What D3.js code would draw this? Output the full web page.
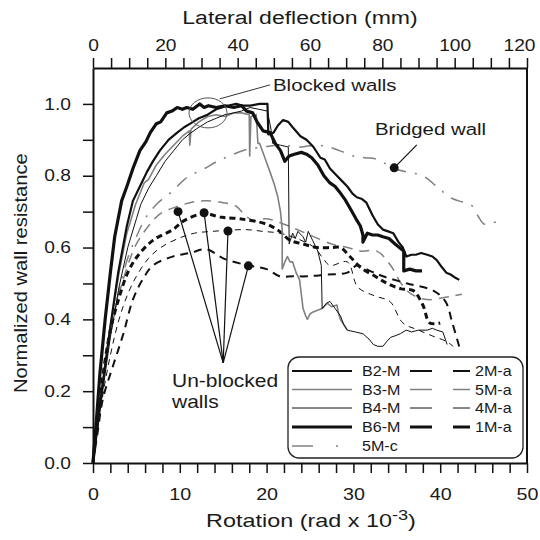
<!DOCTYPE html>
<html><head><meta charset="utf-8">
<script src="https://cdn.jsdelivr.net/npm/d3@7"></script>
<style>
body{margin:0;background:#fff}
svg{display:block}
text{font-family:"Liberation Sans",Arial,sans-serif;fill:#1a1a1a}
</style>
</head><body>
<svg id="c" width="540" height="540"></svg>
<script>
// ---------- data: [rotation (rad x 10^-3), normalized resistance] ----------
const B2M = [[0,0],[0.5,0.1],[1,0.2],[2,0.38],[2.9,0.53],[3.9,0.66],[4.6,0.73],[5.4,0.77],[6.2,0.81],[6.9,0.84],[7.7,0.87],[8.7,0.9],[9.7,0.92],[10.5,0.935],[11.2,0.945],[12.2,0.96],[13.2,0.97],[14.2,0.985],[15.5,0.995],[16.5,1.0],[17.3,0.995],[18.1,0.995],[19.2,1.0],[20.1,1.0],[20.2,0.915],[20.8,0.92],[21.3,0.94],[21.9,0.955],[22.5,0.95],[23,0.935],[23.9,0.91],[24.6,0.9],[25.4,0.88],[26.2,0.85],[26.7,0.845],[27.3,0.82],[28.1,0.8],[28.7,0.785],[29.3,0.77],[29.9,0.75],[30.4,0.74],[31,0.735],[31.5,0.725],[32.2,0.69],[32.8,0.665],[33.4,0.65],[34,0.645],[34.6,0.64],[35.2,0.615],[35.7,0.6],[36.1,0.575],[36.7,0.58],[37.2,0.58],[37.8,0.585],[38.5,0.58],[39.1,0.575],[39.6,0.565],[40.2,0.545],[40.7,0.53],[41.2,0.525],[41.8,0.515],[42.2,0.51]];
const B3M = [[0,0],[0.5,0.1],[1,0.2],[2,0.38],[3,0.53],[3.9,0.64],[4.9,0.72],[5.4,0.75],[5.9,0.78],[6.4,0.79],[7.3,0.83],[8.3,0.86],[9.3,0.885],[10.3,0.91],[11.1,0.925],[11.15,0.885],[11.3,0.93],[12.2,0.95],[13.2,0.965],[14.2,0.97],[15.2,0.965],[16.2,0.975],[17.1,0.975],[18,0.97],[18.05,0.855],[18.2,0.965],[18.8,0.97],[19.0,0.89],[19.2,0.89],[19.8,0.85],[20.4,0.81],[20.9,0.775],[21.3,0.74],[21.6,0.7],[21.8,0.65],[21.8,0.54],[22.1,0.56],[22.4,0.575],[22.7,0.56],[23.0,0.56],[23.4,0.53],[23.8,0.51],[24.0,0.47],[24.2,0.43],[24.5,0.41],[24.7,0.4],[25.0,0.415],[25.3,0.42],[25.8,0.425],[26.4,0.43],[27.0,0.445],[27.5,0.435],[28.1,0.44],[28.3,0.415],[28.5,0.4],[28.9,0.385],[29.3,0.37]];
const B4M = [[0,0],[0.5,0.09],[1,0.18],[2,0.35],[3,0.49],[4,0.6],[5,0.68],[5.5,0.72],[6.4,0.765],[7.3,0.8],[8.3,0.84],[9.3,0.87],[10.3,0.9],[11.3,0.92],[12.2,0.935],[13.2,0.95],[14.2,0.96],[15.2,0.97],[16.2,0.975],[17.1,0.98],[18.1,0.99],[19.1,0.985],[20.1,0.98],[20.5,0.93],[20.7,0.89],[21.6,0.885],[22.5,0.88],[22.6,0.61],[23.0,0.64],[23.3,0.625],[23.6,0.645],[24.2,0.63],[24.5,0.615],[24.8,0.645],[25.3,0.62],[25.9,0.59],[26.3,0.55],[26.4,0.43],[26.9,0.445],[27.3,0.45],[27.9,0.43],[28.5,0.41],[28.9,0.385],[29.3,0.37],[30.2,0.365],[31.1,0.36],[31.8,0.345],[32.3,0.33],[32.8,0.325],[33.4,0.325],[33.9,0.34],[34.3,0.35],[34.9,0.355],[35.4,0.36],[36.1,0.37],[36.7,0.365],[37.5,0.37],[38.5,0.37],[39.1,0.375],[39.6,0.37],[40.3,0.365],[40.8,0.33]];
const B6M = [[0,0],[0.4,0.12],[0.8,0.25],[1.4,0.4],[2,0.53],[2.5,0.63],[3.3,0.73],[3.9,0.77],[4.6,0.82],[5.4,0.87],[6.1,0.895],[6.6,0.92],[7.3,0.945],[7.8,0.95],[8.5,0.975],[9.1,0.98],[9.7,0.99],[10.3,0.985],[10.8,0.99],[11.5,0.985],[12.3,1.0],[12.8,0.99],[13.3,0.995],[14.2,0.99],[15.2,0.995],[16.2,0.99],[17.1,0.995],[17.7,0.98],[18.4,0.975],[18.9,0.95],[19.6,0.925],[20.4,0.92],[21,0.89],[21.6,0.87],[22.1,0.84],[22.6,0.855],[23.2,0.86],[24,0.865],[24.6,0.86],[25.2,0.85],[25.9,0.83],[26.6,0.8],[27.3,0.78],[27.9,0.77],[28.4,0.755],[29,0.735],[29.6,0.71],[30.3,0.68],[30.8,0.66],[31.1,0.635],[31.1,0.615],[31.6,0.64],[32.2,0.635],[32.8,0.635],[33.4,0.63],[34.1,0.625],[34.8,0.61],[35.3,0.6],[35.8,0.59],[35.8,0.535],[36.5,0.54],[37.2,0.535],[37.9,0.535]];
const M5c = [[0,0],[0.5,0.1],[1,0.2],[2,0.36],[3,0.48],[4,0.57],[5,0.63],[6,0.68],[7.3,0.72],[9.1,0.756],[10.8,0.795],[12.7,0.818],[14.3,0.84],[15.7,0.855],[17.7,0.873],[19.6,0.88],[21.5,0.885],[23.9,0.88],[25.5,0.885],[26.9,0.882],[28.4,0.87],[30,0.855],[31.3,0.85],[32.7,0.846],[34.7,0.82],[36.2,0.81],[38,0.8],[39.6,0.77],[41.1,0.74],[42.1,0.73],[43.5,0.72],[44.3,0.69],[45.1,0.665],[46,0.67],[46.9,0.67]];
const M2a = [[0,0],[0.5,0.08],[1.15,0.18],[2.3,0.27],[3.5,0.36],[4.6,0.455],[5.7,0.51],[6.9,0.55],[9.2,0.575],[11.2,0.585],[13.1,0.595],[15,0.57],[17.9,0.55],[20,0.54],[21.5,0.52],[23,0.52],[24.7,0.52],[27,0.525],[29.3,0.53],[30.4,0.55],[31.9,0.535],[33.4,0.52],[36.2,0.5],[39.2,0.48],[40.6,0.45],[41.4,0.39],[42.3,0.315]];
const M5a = [[0,0],[1,0.2],[2,0.36],[3,0.47],[4,0.55],[5,0.61],[6.4,0.66],[7.8,0.695],[9.8,0.715],[11.7,0.728],[13.1,0.73],[15,0.725],[16.5,0.715],[17.5,0.69],[18.5,0.675],[20,0.68],[22,0.665],[24.5,0.64],[27.5,0.61],[29.3,0.6],[30.9,0.59],[32.7,0.59],[34.3,0.55],[35.5,0.5],[36.7,0.47],[38.5,0.455],[40.3,0.46],[41.5,0.465],[42.5,0.47]];
const M4a = [[0,0],[1,0.17],[2,0.3],[3,0.4],[4,0.47],[5,0.52],[6.4,0.57],[7.8,0.6],[9.8,0.625],[11.7,0.64],[13.7,0.645],[15.6,0.648],[17.6,0.65],[19.6,0.645],[21.5,0.64],[23.5,0.625],[25.5,0.6],[26.5,0.57],[27.3,0.55],[29.3,0.56],[30.5,0.49],[32.5,0.465],[34.2,0.45],[35.7,0.39],[37.5,0.37],[39.5,0.35],[40.6,0.34],[41.5,0.325]];
const M1a = [[0,0],[0.5,0.12],[1,0.22],[2,0.37],[3,0.46],[4,0.53],[5.1,0.575],[6.9,0.62],[9.2,0.65],[10.5,0.675],[12.8,0.695],[14.6,0.685],[16.9,0.68],[20,0.665],[21.5,0.645],[22.7,0.62],[24.2,0.61],[25.8,0.6],[27.5,0.6],[28.5,0.6],[29.6,0.575],[30.8,0.545],[32.5,0.52],[33.9,0.5],[35.5,0.485],[36.9,0.48],[38,0.44],[38.8,0.39],[40,0.39]];

const unblockedDots = [[9.8,0.70],[12.8,0.697],[15.55,0.646],[17.9,0.549]];
const unblockedApex = [15,0.279];
const bridgedDot = [34.7,0.822];
const bridgedLeaderEnd = [37.3,0.886];
const blockedCenter = [13.25,0.975];
const blockedLeader = [[14.6,1.014],[20.4,1.053]];

const rotTicks = d3.range(0,51,2);
const rotLabels = [0,10,20,30,40,50];
const mmTicks = d3.range(0,121,5);
const mmLabels = [0,20,40,60,80,100,120];
const resTicks = d3.range(0,11).map(i=>i/10);
const resLabels = [0,0.2,0.4,0.6,0.8,1.0];

// ---------- drawing ----------
const svg = d3.select("#c");
const x = d3.scaleLinear().domain([0,50]).range([93,527]);
const x2 = d3.scaleLinear().domain([0,120]).range([93,527]);
const y = d3.scaleLinear().domain([0,1.1]).range([463,68]);
const GRAY = "#808080";

const series = [
  {name:"5M-c", data:M5c, color:GRAY, w:1.5, dash:"13,9,2,9", smooth:true},
  {name:"5M-a", data:M5a, color:GRAY, w:1.5, dash:"10,7", smooth:true},
  {name:"4M-a", data:M4a, color:"#111", w:1, dash:"6,5", smooth:true},
  {name:"2M-a", data:M2a, color:"#111", w:2, dash:"8,6", smooth:true},
  {name:"1M-a", data:M1a, color:"#111", w:3, dash:"6,4", smooth:true},
  {name:"B3-M", data:B3M, color:GRAY, w:1.6, dash:null, smooth:false},
  {name:"B4-M", data:B4M, color:"#111", w:1, dash:null, smooth:false},
  {name:"B2-M", data:B2M, color:"#111", w:2.2, dash:null, smooth:false},
  {name:"B6-M", data:B6M, color:"#111", w:3.2, dash:null, smooth:false}
];

const lineLin = d3.line().x(d=>x(d[0])).y(d=>y(d[1]));
const lineSm = d3.line().x(d=>x(d[0])).y(d=>y(d[1])).curve(d3.curveCatmullRom.alpha(0.5));

const plot = svg.append("g");
series.forEach(s=>{
  plot.append("path").datum(s.data)
    .attr("d", s.smooth ? lineSm : lineLin)
    .attr("fill","none").attr("stroke",s.color).attr("stroke-width",s.w)
    .attr("stroke-linejoin","round")
    .attr("stroke-dasharray", s.dash);
});

// annotations
function stretchText(g, px, py, str, size, anchor, k){
  return g.append("text").attr("transform",`translate(${px},${py}) scale(${k},1)`)
    .attr("font-size",size).attr("text-anchor",anchor).text(str);
}
const ann = svg.append("g");
unblockedDots.forEach(d=>{
  ann.append("line").attr("x1",x(d[0])).attr("y1",y(d[1])).attr("x2",x(unblockedApex[0])).attr("y2",y(unblockedApex[1]))
    .attr("stroke","#111").attr("stroke-width",1.2);
  ann.append("circle").attr("cx",x(d[0])).attr("cy",y(d[1])).attr("r",4.5).attr("fill","#111");
});
ann.append("line").attr("x1",x(bridgedDot[0])).attr("y1",y(bridgedDot[1])).attr("x2",x(bridgedLeaderEnd[0])).attr("y2",y(bridgedLeaderEnd[1]))
  .attr("stroke","#111").attr("stroke-width",1.2);
ann.append("circle").attr("cx",x(bridgedDot[0])).attr("cy",y(bridgedDot[1])).attr("r",4.5).attr("fill","#111");
ann.append("ellipse").attr("cx",x(blockedCenter[0])).attr("cy",y(blockedCenter[1])).attr("rx",19).attr("ry",15)
  .attr("fill","none").attr("stroke","#555").attr("stroke-width",1);
ann.append("line").attr("x1",x(blockedLeader[0][0])).attr("y1",y(blockedLeader[0][1])).attr("x2",x(blockedLeader[1][0])).attr("y2",y(blockedLeader[1][1]))
  .attr("stroke","#333").attr("stroke-width",1);
stretchText(ann,273,91,"Blocked walls",17,"start",1.2);
stretchText(ann,375,135,"Bridged wall",17,"start",1.2);
stretchText(ann,172,387,"Un-blocked",17.5,"start",1.2);
stretchText(ann,172,408,"walls",17.5,"start",1.2);

// axes
function styleAxis(g, k, lastShift){
  g.select(".domain").attr("stroke","#111").attr("stroke-width",2);
  g.selectAll(".tick line").attr("stroke","#111").attr("stroke-width",1.5);
  g.selectAll(".tick text").attr("fill","#1a1a1a").attr("font-size",16)
    .attr("font-family",'"Liberation Sans",Arial,sans-serif')
    .each(function(){
      const t = d3.select(this);
      let tx = +t.attr("x")||0; const ty = +t.attr("y")||0;
      if (lastShift && t.text()===lastShift.label) tx += lastShift.dx;
      t.attr("x",0).attr("y",0).attr("transform",`translate(${tx},${ty}) scale(${k},1)`);
    });
}
const gB = svg.append("g").attr("transform",`translate(0,${y(0)})`)
  .call(d3.axisBottom(x).tickValues(rotTicks).tickSize(10).tickSizeOuter(0).tickPadding(16)
    .tickFormat(d=> rotLabels.includes(d) ? String(d) : ""));
styleAxis(gB,1.23);
const gT = svg.append("g").attr("transform",`translate(0,${y(1.1)})`)
  .call(d3.axisTop(x2).tickValues(mmTicks).tickSize(10).tickSizeOuter(0).tickPadding(7)
    .tickFormat(d=> mmLabels.includes(d) ? String(d) : ""));
styleAxis(gT,1.2,{label:"120",dx:-8});
const gL = svg.append("g").attr("transform",`translate(${x(0)},0)`)
  .call(d3.axisLeft(y).tickValues(resTicks).tickSize(10).tickSizeOuter(0).tickPadding(12)
    .tickFormat(d=> resLabels.some(v=>Math.abs(v-d)<1e-9) ? d.toFixed(1) : ""));
styleAxis(gL,1.2);
svg.append("line").attr("x1",x(50)).attr("x2",x(50)).attr("y1",y(0)).attr("y2",y(1.1))
  .attr("stroke","#111").attr("stroke-width",2);

// titles
stretchText(svg,300,24,"Lateral deflection (mm)",18,"middle",1.28);
const bt = svg.append("text").attr("transform",`translate(311,527) scale(1.3,1)`)
  .attr("font-size",18).attr("text-anchor","middle");
bt.append("tspan").text("Rotation (rad x 10");
bt.append("tspan").attr("dy",-7).attr("font-size",14).text("-3");
bt.append("tspan").attr("dy",7).text(")");
svg.append("text").attr("transform","translate(27,393) rotate(-90) scale(1.12,1)")
  .attr("font-size",18).attr("text-anchor","start").text("Normalized wall resistance");

// legend
const lg = svg.append("g");
lg.append("rect").attr("x",288).attr("y",357).attr("width",235).attr("height",101).attr("rx",11)
  .attr("fill","#fff").attr("stroke","#222").attr("stroke-width",1.3);
const legCol1 = ["B2-M","B3-M","B4-M","B6-M","5M-c"];
const legCol2 = ["2M-a","5M-a","4M-a","1M-a"];
const rowY = [371,389.5,408,427,446];
const byName = Object.fromEntries(series.map(s=>[s.name,s]));
legCol1.forEach((n,i)=>{
  const s = byName[n];
  if(n==="5M-c"){
    lg.append("line").attr("x1",292).attr("x2",313).attr("y1",rowY[i]).attr("y2",rowY[i]).attr("stroke",s.color).attr("stroke-width",s.w);
    lg.append("circle").attr("cx",337).attr("cy",rowY[i]).attr("r",1).attr("fill",s.color);
  } else {
    lg.append("line").attr("x1",292).attr("x2",352).attr("y1",rowY[i]).attr("y2",rowY[i]).attr("stroke",s.color).attr("stroke-width",s.w);
  }
  stretchText(lg,362,rowY[i]+5,n,14,"start",1.15);
});
legCol2.forEach((n,i)=>{
  const s = byName[n];
  lg.append("line").attr("x1",410).attr("x2",470).attr("y1",rowY[i]).attr("y2",rowY[i]).attr("stroke",s.color).attr("stroke-width",s.w)
    .attr("stroke-dasharray","22,21");
  stretchText(lg,475,rowY[i]+5,n,14,"start",1.15);
});
</script>
</body></html>
